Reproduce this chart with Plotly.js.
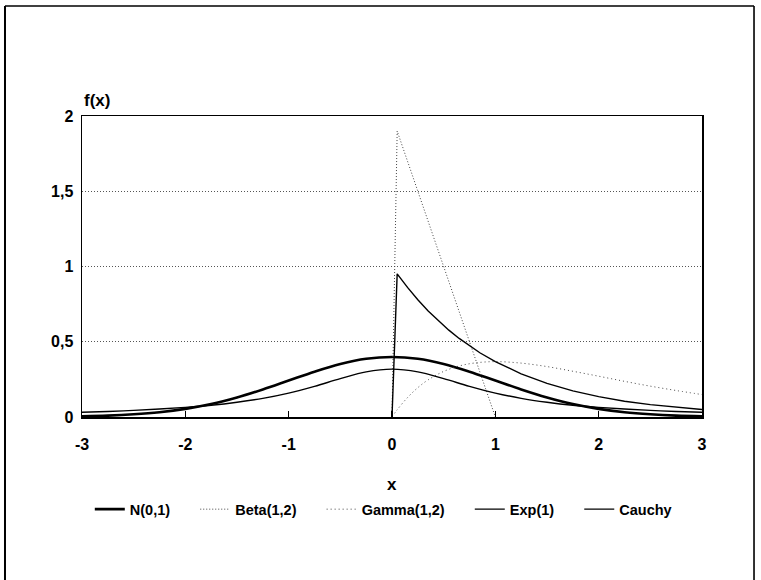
<!DOCTYPE html>
<html>
<head>
<meta charset="utf-8">
<script src="https://cdn.plot.ly/plotly-3.0.1.min.js"></script>
<style>html,body{margin:0;padding:0;background:#fff;}#chart{width:761px;height:580px;}</style>
</head>
<body>
<div id="chart"></div>
<script>
const xGrid = [-3,-2.75,-2.5,-2.25,-2,-1.75,-1.5,-1.25,-1,-0.75,-0.5,-0.25,0,0.25,0.5,0.75,1,1.25,1.5,1.75,2,2.25,2.5,2.75,3];
const normalY = [0.004,0.009,0.018,0.032,0.054,0.086,0.130,0.183,0.242,0.301,0.352,0.387,0.399,0.387,0.352,0.301,0.242,0.183,0.130,0.086,0.054,0.032,0.018,0.009,0.004];
const cauchyY = [0.032,0.037,0.044,0.053,0.064,0.078,0.098,0.124,0.159,0.204,0.255,0.300,0.318,0.300,0.255,0.204,0.159,0.124,0.098,0.078,0.064,0.053,0.044,0.037,0.032];

const betaX = [0,0.05,1];
const betaY = [0,1.9,0];

const gammaX = [0,0.05,0.15,0.25,0.35,0.5,0.65,0.8,1,1.25,1.5,1.75,2,2.25,2.5,2.75,3];
const gammaY = [0,0.048,0.129,0.195,0.247,0.303,0.339,0.359,0.368,0.358,0.335,0.304,0.271,0.237,0.205,0.176,0.149];

const expX = [0,0.05,0.15,0.25,0.35,0.45,0.55,0.65,0.75,0.85,1,1.25,1.5,1.75,2,2.25,2.5,2.75,3];
const expY = [0,0.951,0.861,0.779,0.705,0.638,0.577,0.522,0.472,0.427,0.368,0.287,0.223,0.174,0.135,0.105,0.082,0.064,0.050];

const seriesNames = ['N(0,1)','Beta(1,2)','Gamma(1,2)','Exp(1)','Cauchy'];
const yTickVals = [0,0.5,1,1.5,2];
const yTickText = ['0','0,5','1','1,5','2'];
const xTickVals = [-3,-2,-1,0,1,2,3];
const xTickText = ['-3','-2','-1','0','1','2','3'];

const FONT = 'Liberation Sans, Arial, Helvetica, sans-serif';
const pad = n => '\u00A0'.repeat(n);

const traces = [
  {x:xGrid, y:normalY, name:seriesNames[0]+pad(5), mode:'lines', line:{color:'#000', width:2.6, shape:'spline'}},
  {x:betaX, y:betaY, name:seriesNames[1]+pad(5), mode:'lines', line:{color:'#444', width:1, dash:'1px,2px'}},
  {x:gammaX, y:gammaY, name:seriesNames[2]+pad(5), mode:'lines', line:{color:'#444', width:1, dash:'1px,3px', shape:'spline'}},
  {x:expX, y:expY, name:seriesNames[3]+pad(5), mode:'lines', line:{color:'#000', width:1.4}},
  {x:xGrid, y:cauchyY, name:seriesNames[4], mode:'lines', line:{color:'#000', width:1.4, shape:'spline'}}
];

const frame = {color:'#000', width:2};
const layout = {
  width:761, height:580,
  margin:{l:82, r:59, t:116, b:163, pad:0},
  paper_bgcolor:'#fff', plot_bgcolor:'#fff',
  font:{family:FONT, color:'#000', size:14, weight:700},
  showlegend:true,
  legend:{orientation:'h', xref:'container', yref:'container', x:0.118, y:0.122, xanchor:'left', yanchor:'middle',
          font:{family:FONT, size:14.5, weight:700, color:'#000'}, bgcolor:'rgba(0,0,0,0)', itemwidth:30, tracegroupgap:0},
  xaxis:{range:[-3,3], tickvals:xTickVals, ticktext:xTickText, ticks:'inside', ticklen:6, tickwidth:1.3, tickcolor:'#000',
         showline:true, mirror:true, linecolor:'#000', linewidth:1.5, showgrid:false, zeroline:false,
         tickfont:{family:FONT, size:16, weight:700}, ticklabelstandoff:12},
  yaxis:{range:[0,2], tickvals:yTickVals, ticktext:yTickText, ticks:'', showline:true, mirror:true, linecolor:'#000', linewidth:1.5,
         showgrid:true, gridcolor:'#555', gridwidth:1, griddash:'1px,2px', zeroline:false,
         tickfont:{family:FONT, size:16, weight:700}, ticklabelstandoff:4},
  annotations:[
    {text:'f(x)', xref:'paper', yref:'paper', x:0, y:1.05, xanchor:'left', yanchor:'middle', showarrow:false,
     font:{family:FONT, size:17, weight:700}},
    {text:'x', xref:'paper', yref:'paper', x:0.5, y:-0.2226, xanchor:'center', yanchor:'middle', showarrow:false,
     font:{family:FONT, size:17, weight:700}}
  ],
  shapes:[
    {type:'line', xref:'paper', yref:'paper', x0:-0.1242, x1:-0.1242, y0:1.3654, y1:-0.55, line:frame},
    {type:'line', xref:'paper', yref:'paper', x0:-0.1242, x1:1.0839, y0:1.3654, y1:1.3654, line:{color:'#000', width:1.6}},
    {type:'line', xref:'paper', yref:'paper', x0:1.0839, x1:1.0839, y0:1.3654, y1:-0.55, line:{color:'#000', width:1.6}}
  ]
};

Plotly.newPlot('chart', traces, layout, {displayModeBar:false, staticPlot:true});
</script>
</body>
</html>
